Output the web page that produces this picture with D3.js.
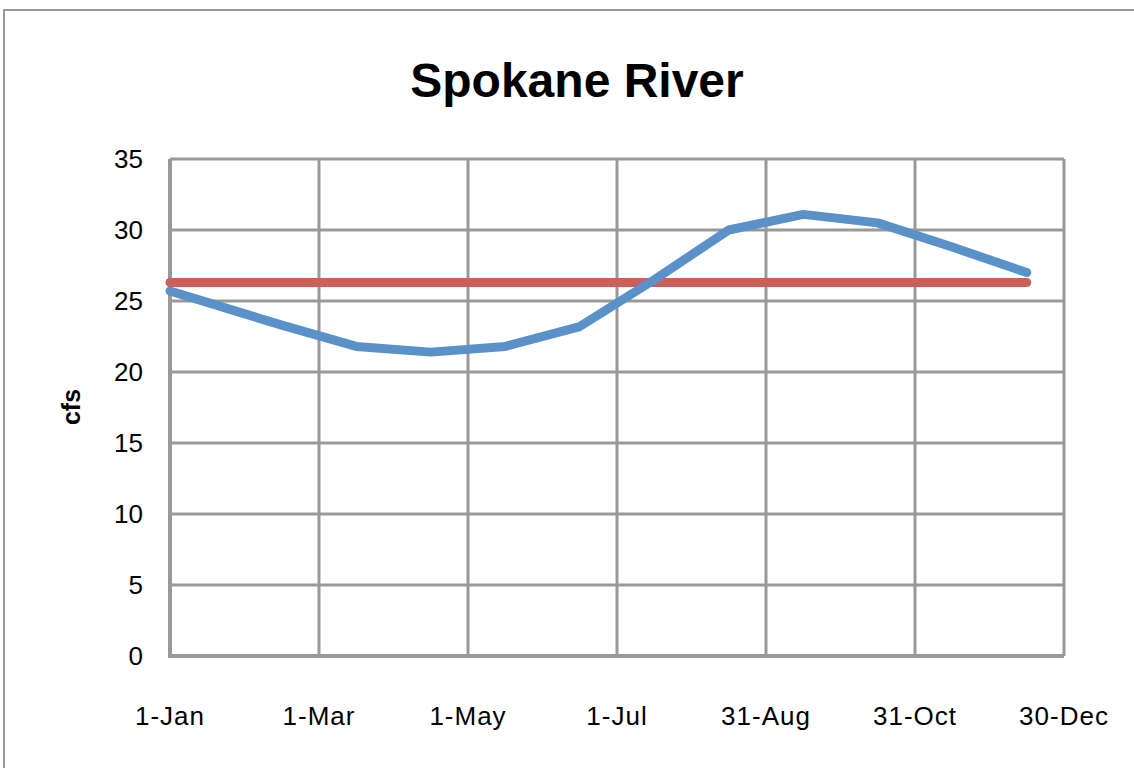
<!DOCTYPE html>
<html>
<head>
<meta charset="utf-8">
<script src="https://cdn.jsdelivr.net/npm/d3@7"></script>
<style>
  body { margin: 0; background: #fff; }
  svg { display: block; }
</style>
</head>
<body>
<script>
// day of year for each point, flow (cfs), and the flat reference line
const days = [0, 15, 45, 75, 105, 135, 165, 195, 225, 255, 285, 315, 345];
const flow = [25.7, 24.9, 23.3, 21.8, 21.4, 21.8, 23.2, 26.5, 30.0, 31.1, 30.5, 28.8, 27.0];
const mean = [26.3, 26.3, 26.3, 26.3, 26.3, 26.3, 26.3, 26.3, 26.3, 26.3, 26.3, 26.3, 26.3];
const tickDays = [0, 60, 120, 180, 240, 300, 360];
const tickLabels = ["1-Jan", "1-Mar", "1-May", "1-Jul", "31-Aug", "31-Oct", "30-Dec"];
const yTicks = [0, 5, 10, 15, 20, 25, 30, 35];

const width = 1134, height = 768;
const font = "'Liberation Sans', Arial, sans-serif";
const grid = "#999";

const x = d3.scaleLinear().domain([0, 360]).range([170, 1064]);
const y = d3.scaleLinear().domain([0, 35]).range([656, 159]);

const svg = d3.select("body").append("svg")
    .attr("width", width)
    .attr("height", height);

// chart frame
svg.append("path")
    .attr("d", `M4,${height + 5} V10 H${width + 5}`)
    .attr("fill", "none")
    .attr("stroke", grid)
    .attr("stroke-width", 2);

svg.append("text")
    .attr("x", 577)
    .attr("y", 97)
    .attr("text-anchor", "middle")
    .attr("font-family", font)
    .attr("font-weight", "bold")
    .attr("font-size", 48)
    .text("Spokane River");

// gridlines
svg.append("g")
    .attr("stroke", grid)
    .attr("stroke-width", 3)
  .selectAll("line")
  .data(yTicks)
  .join("line")
    .attr("x1", x(0)).attr("x2", x(360))
    .attr("y1", d => y(d)).attr("y2", d => y(d));

svg.append("g")
    .attr("stroke", grid)
    .attr("stroke-width", 3)
  .selectAll("line")
  .data(tickDays)
  .join("line")
    .attr("x1", d => x(d)).attr("x2", d => x(d))
    .attr("y1", y(0)).attr("y2", y(35));

// axis lines a bit heavier
svg.append("path")
    .attr("d", `M${x(0)},${y(35)} V${y(0)} H${x(360)}`)
    .attr("fill", "none")
    .attr("stroke", grid)
    .attr("stroke-width", 4);

// tick labels
svg.append("g")
    .attr("font-family", font)
    .attr("font-size", 26)
  .selectAll("text")
  .data(yTicks)
  .join("text")
    .attr("x", 143)
    .attr("y", d => y(d))
    .attr("dy", "0.35em")
    .attr("text-anchor", "end")
    .text(d => d);

svg.append("g")
    .attr("font-family", font)
    .attr("font-size", 26)
    .attr("letter-spacing", 1)
  .selectAll("text")
  .data(tickDays)
  .join("text")
    .attr("x", d => x(d))
    .attr("y", 725)
    .attr("text-anchor", "middle")
    .text((d, i) => tickLabels[i]);

svg.append("text")
    .attr("transform", `translate(80,407) rotate(-90)`)
    .attr("text-anchor", "middle")
    .attr("font-family", font)
    .attr("font-weight", "bold")
    .attr("font-size", 25)
    .text("cfs");

const line = d3.line()
    .x(d => x(d[0]))
    .y(d => y(d[1]));

svg.append("path")
    .datum(days.map((d, i) => [d, mean[i]]))
    .attr("d", line)
    .attr("fill", "none")
    .attr("stroke", "#C9605A")
    .attr("stroke-width", 9)
    .attr("stroke-linecap", "round");

svg.append("path")
    .datum(days.map((d, i) => [d, flow[i]]))
    .attr("d", line)
    .attr("fill", "none")
    .attr("stroke", "#5A91C8")
    .attr("stroke-width", 9)
    .attr("stroke-linecap", "round")
    .attr("stroke-linejoin", "round");
</script>
</body>
</html>
